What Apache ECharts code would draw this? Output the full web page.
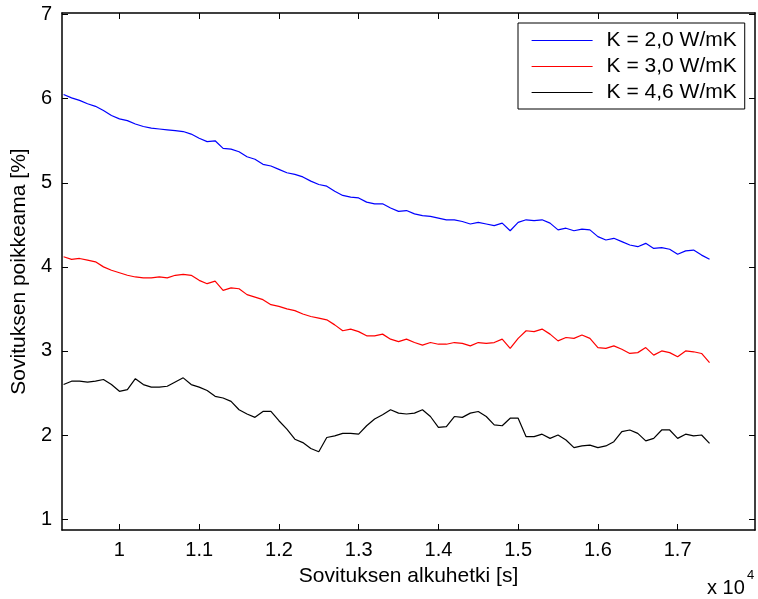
<!DOCTYPE html>
<html>
<head>
<meta charset="utf-8">
<script src="https://cdn.jsdelivr.net/npm/echarts@6/dist/echarts.min.js"></script>
<style>
html,body{margin:0;padding:0;background:#fff;}
#chart{width:758px;height:599px;}
</style>
</head>
<body>
<div id="chart"></div>
<script>
// Start time of fit [s]
const times = [9300, 9400, 9500, 9600, 9700, 9800, 9900, 10000, 10100, 10200,
  10300, 10400, 10500, 10600, 10700, 10800, 10900, 11000, 11100, 11200,
  11300, 11400, 11500, 11600, 11700, 11800, 11900, 12000, 12100, 12200,
  12300, 12400, 12500, 12600, 12700, 12800, 12900, 13000, 13100, 13200,
  13300, 13400, 13500, 13600, 13700, 13800, 13900, 14000, 14100, 14200,
  14300, 14400, 14500, 14600, 14700, 14800, 14900, 15000, 15100, 15200,
  15300, 15400, 15500, 15600, 15700, 15800, 15900, 16000, 16100, 16200,
  16300, 16400, 16500, 16600, 16700, 16800, 16900, 17000, 17100, 17200,
  17300, 17400];

const k20 = [6.05, 6.01, 5.98, 5.94, 5.91, 5.86, 5.80, 5.76, 5.74, 5.70,
  5.67, 5.65, 5.64, 5.63, 5.62, 5.61, 5.58, 5.53, 5.49, 5.50,
  5.41, 5.40, 5.37, 5.31, 5.28, 5.22, 5.20, 5.16, 5.12, 5.10,
  5.07, 5.02, 4.98, 4.96, 4.90, 4.85, 4.83, 4.82, 4.77, 4.75,
  4.75, 4.70, 4.66, 4.67, 4.63, 4.61, 4.60, 4.58, 4.56, 4.56,
  4.54, 4.51, 4.53, 4.51, 4.49, 4.52, 4.43, 4.53, 4.56, 4.55,
  4.56, 4.52, 4.44, 4.46, 4.43, 4.45, 4.44, 4.36, 4.32, 4.34,
  4.30, 4.26, 4.24, 4.28, 4.22, 4.23, 4.21, 4.15, 4.19, 4.20,
  4.14, 4.09];

const k30 = [4.12, 4.09, 4.10, 4.08, 4.06, 4.00, 3.96, 3.93, 3.90, 3.88,
  3.87, 3.87, 3.88, 3.87, 3.90, 3.91, 3.90, 3.84, 3.80, 3.83,
  3.72, 3.75, 3.74, 3.67, 3.64, 3.61, 3.55, 3.53, 3.50, 3.48,
  3.44, 3.41, 3.39, 3.37, 3.31, 3.24, 3.26, 3.23, 3.18, 3.18,
  3.20, 3.14, 3.11, 3.14, 3.10, 3.07, 3.10, 3.08, 3.08, 3.10,
  3.09, 3.06, 3.10, 3.09, 3.10, 3.14, 3.03, 3.15, 3.24, 3.23,
  3.26, 3.20, 3.12, 3.16, 3.15, 3.19, 3.15, 3.04, 3.03, 3.06,
  3.02, 2.97, 2.98, 3.04, 2.95, 3.00, 2.98, 2.93, 3.00, 2.99,
  2.97, 2.86];

const k46 = [2.60, 2.64, 2.64, 2.63, 2.64, 2.66, 2.60, 2.52, 2.54, 2.67,
  2.60, 2.57, 2.57, 2.58, 2.63, 2.68, 2.60, 2.57, 2.53, 2.46,
  2.44, 2.40, 2.30, 2.25, 2.21, 2.28, 2.28, 2.17, 2.07, 1.95,
  1.91, 1.84, 1.80, 1.97, 1.99, 2.02, 2.02, 2.01, 2.11, 2.19,
  2.24, 2.30, 2.26, 2.25, 2.26, 2.30, 2.22, 2.09, 2.10, 2.22,
  2.21, 2.26, 2.28, 2.22, 2.12, 2.11, 2.20, 2.20, 1.98, 1.98,
  2.01, 1.96, 2.00, 1.94, 1.85, 1.87, 1.88, 1.85, 1.87, 1.92,
  2.04, 2.06, 2.02, 1.93, 1.96, 2.06, 2.06, 1.96, 2.01, 1.99,
  2.00, 1.90];

const seriesNames = ['K = 2,0 W/mK', 'K = 3,0 W/mK', 'K = 4,6 W/mK'];
const seriesColors = ['#0000ff', '#ff0000', '#000000'];
const xTicks = [10000, 11000, 12000, 13000, 14000, 15000, 16000, 17000];
const yTicks = [1, 2, 3, 4, 5, 6, 7];

const FONT = '"Liberation Sans", Arial, Helvetica, sans-serif';
const chart = echarts.init(document.getElementById('chart'), null, {renderer: 'canvas'});

function pairs(vals) { return times.map((t, i) => [t, vals[i]]); }

const baseX = {
  type: 'value', min: 9280, max: 17970,
  splitLine: {show: false},
  axisLine: {show: true, onZero: false, lineStyle: {color: '#000', width: 1.5}},
  axisTick: {show: true, inside: true, length: 6, customValues: xTicks, lineStyle: {color: '#000', width: 1}},
};
const baseY = {
  type: 'value', min: 0.87, max: 7.02,
  splitLine: {show: false},
  axisLine: {show: true, onZero: false, lineStyle: {color: '#000', width: 1.5}},
  axisTick: {show: true, inside: true, length: 6, customValues: yTicks, lineStyle: {color: '#000', width: 1}},
};

const option = {
  animation: false,
  backgroundColor: '#fff',
  grid: {left: 62, top: 13, right: 3, bottom: 69, containLabel: false},
  xAxis: [
    Object.assign({}, baseX, {
      position: 'bottom',
      name: 'Sovituksen alkuhetki [s]', nameLocation: 'middle', nameGap: 36,
      nameTextStyle: {fontFamily: FONT, fontSize: 21, color: '#000'},
      axisLabel: {show: true, customValues: xTicks, margin: 10, fontFamily: FONT, fontSize: 20, color: '#000',
        formatter: v => String(Math.round(v / 1000) / 10)}
    }),
    Object.assign({}, baseX, {position: 'top', axisLabel: {show: false}})
  ],
  yAxis: [
    Object.assign({}, baseY, {
      position: 'left',
      name: 'Sovituksen poikkeama [%]', nameLocation: 'middle', nameGap: 30, nameRotate: 90,
      nameTextStyle: {fontFamily: FONT, fontSize: 21, color: '#000'},
      axisLabel: {show: true, customValues: yTicks, margin: 10, fontFamily: FONT, fontSize: 20, color: '#000',
        formatter: v => String(Math.round(v))}
    }),
    Object.assign({}, baseY, {position: 'right', axisLabel: {show: false}})
  ],
  legend: {
    orient: 'vertical', left: 518, top: 23,
    padding: [7, 8, 6, 13],
    itemGap: 5, itemWidth: 61, itemHeight: 14,
    itemStyle: {opacity: 0},
    lineStyle: {width: 1.2},
    backgroundColor: '#fff', borderColor: '#000', borderWidth: 1, borderRadius: 0,
    textStyle: {fontFamily: FONT, fontSize: 21, color: '#000', lineHeight: 21, padding: [0, 0, 0, 9]},
    data: seriesNames
  },
  graphic: [
    {type: 'text', left: 707, top: 578, style: {text: 'x 10', font: '20px ' + FONT, fill: '#000'}},
    {type: 'text', left: 747, top: 569, style: {text: '4', font: '13px ' + FONT, fill: '#000'}}
  ],
  series: [k20, k30, k46].map((vals, i) => ({
    name: seriesNames[i], type: 'line', data: pairs(vals),
    xAxisIndex: 0, yAxisIndex: 0,
    symbol: 'none', showSymbol: false,
    lineStyle: {color: seriesColors[i], width: 1.2},
    itemStyle: {color: seriesColors[i]}
  }))
};
chart.setOption(option);
</script>
</body>
</html>
